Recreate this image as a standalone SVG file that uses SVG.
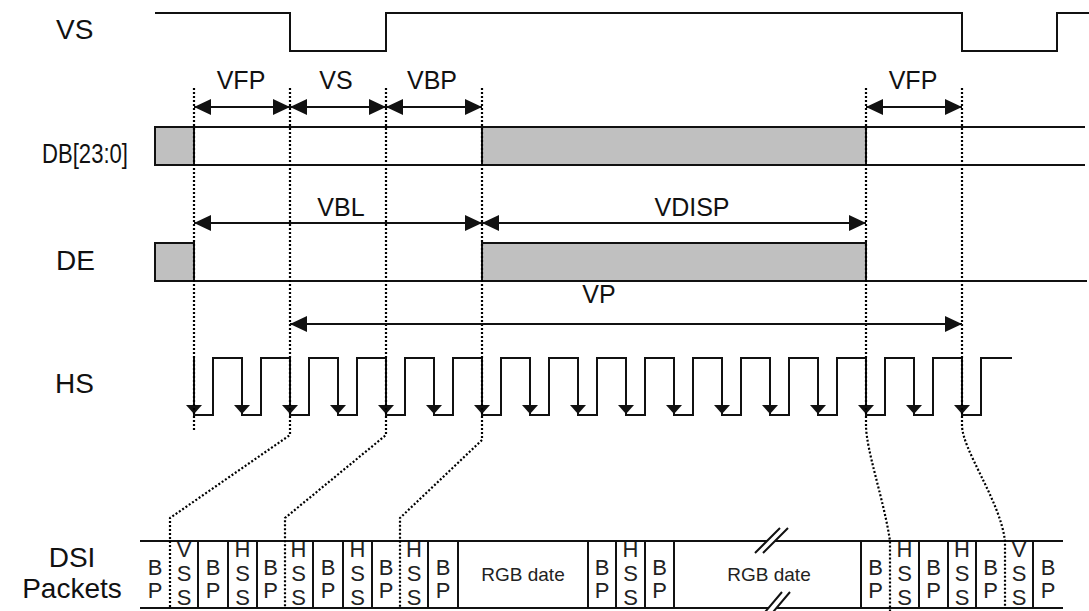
<svg xmlns="http://www.w3.org/2000/svg" width="1089" height="611" viewBox="0 0 1089 611">
<style>
.sig{fill:none;stroke:#111;stroke-width:2;stroke-linejoin:miter}
.bus{fill:#c0c0c0;stroke:#111;stroke-width:2}
.dot{fill:none;stroke:#000;stroke-width:2.2;stroke-dasharray:2 2}
.arr{fill:none;stroke:#111;stroke-width:2;marker-start:url(#ah);marker-end:url(#ah)}
.lbl{font-family:"Liberation Sans",Arial,sans-serif;font-size:28px;fill:#111}
.tl{font-family:"Liberation Sans",Arial,sans-serif;font-size:25px;fill:#111;text-anchor:middle}
.bx{font-family:"Liberation Sans",Arial,sans-serif;font-size:22px;fill:#222;text-anchor:middle}
.rgb{font-family:"Liberation Sans",Arial,sans-serif;font-size:19px;fill:#222;text-anchor:middle}
.div{stroke:#111;stroke-width:2}
</style>
<defs>
<marker id="ah" viewBox="0 0 17 16" refX="17" refY="8" markerWidth="17" markerHeight="16" markerUnits="userSpaceOnUse" orient="auto-start-reverse">
<path d="M0,0 L17,8 L0,16 z" fill="#111"/>
</marker>
<path id="hsa" d="M-8,405 L8,405 L0,414 z" fill="#111"/>
</defs>
<rect width="1089" height="611" fill="#fff"/>

<g id="labels">
<text class="lbl" x="56" y="39">VS</text>
<text class="lbl" x="42" y="163" textLength="86" lengthAdjust="spacingAndGlyphs">DB[23:0]</text>
<text class="lbl" x="56" y="270">DE</text>
<text class="lbl" x="55" y="393">HS</text>
<text class="lbl" x="72" y="567" text-anchor="middle">DSI</text>
<text class="lbl" x="72" y="598" text-anchor="middle">Packets</text>
</g>

<g id="vs-signal">
<path class="sig" d="M155,13 H290 V51 H386 V13 H962 V51 H1057 V13 H1089"/>
</g>

<g id="db-signal">
<rect class="bus" x="155" y="127" width="39" height="38"/>
<rect class="bus" x="482" y="127" width="384" height="38"/>
<path class="sig" d="M194,127 H1085 M194,165 H1085"/>
</g>

<g id="de-signal">
<rect class="bus" x="155" y="243" width="39" height="38"/>
<rect class="bus" x="482" y="243" width="384" height="38"/>
<path class="sig" d="M194,281 H1087"/>
</g>

<g id="hs-signal">
<path class="sig" d="M194,358 V415 H213 V358 H242 V415 H261 V358 H290 V415 H309 V358 H338 V415 H357 V358 H386 V415 H405 V358 H434 V415 H453 V358 H482 V415 H501 V358 H530 V415 H549 V358 H578 V415 H597 V358 H626 V415 H645 V358 H674 V415 H693 V358 H722 V415 H741 V358 H770 V415 H789 V358 H818 V415 H837 V358 H866 V415 H885 V358 H914 V415 H933 V358 H962 V415 H981 V358 H1012"/>
<use href="#hsa" x="194"/><use href="#hsa" x="242"/><use href="#hsa" x="290"/><use href="#hsa" x="338"/>
<use href="#hsa" x="386"/><use href="#hsa" x="434"/><use href="#hsa" x="482"/><use href="#hsa" x="530"/>
<use href="#hsa" x="578"/><use href="#hsa" x="626"/><use href="#hsa" x="674"/><use href="#hsa" x="722"/>
<use href="#hsa" x="770"/><use href="#hsa" x="818"/><use href="#hsa" x="866"/><use href="#hsa" x="914"/>
<use href="#hsa" x="962"/>
</g>

<g id="dsi-packets">
<path class="sig" d="M140,541 H1063 M140,608 H1063"/>
<path class="div" d="M198,541 V608 M228,541 V608 M257,541 V608 M313,541 V608 M343,541 V608 M372,541 V608 M428,541 V608 M458,541 V608 M588,541 V608 M616,541 V608 M645,541 V608 M674,541 V608 M861,541 V608 M919,541 V608 M948,541 V608 M976,541 V608 M1033,541 V608"/>
<polygon points="755,553 780,528 788,528 763,553" fill="#fff"/>
<path class="div" d="M755,553 L780,528 M763,553 L788,528"/>
<polygon points="760,618 782,592 790,592 768,618" fill="#fff"/>
<path class="div" d="M760,618 L782,592 M768,618 L790,592"/>
<text class="rgb" x="523" y="581">RGB date</text>
<text class="rgb" x="769" y="581">RGB date</text>
<g class="bx">
<text x="155" y="575">B</text><text x="155" y="598">P</text>
<text x="184" y="557">V</text><text x="184" y="581">S</text><text x="184" y="605">S</text>
<text x="213" y="575">B</text><text x="213" y="598">P</text>
<text x="242.5" y="557">H</text><text x="242.5" y="581">S</text><text x="242.5" y="605">S</text>
<text x="270.5" y="575">B</text><text x="270.5" y="598">P</text>
<text x="298.5" y="557">H</text><text x="298.5" y="581">S</text><text x="298.5" y="605">S</text>
<text x="328" y="575">B</text><text x="328" y="598">P</text>
<text x="357.5" y="557">H</text><text x="357.5" y="581">S</text><text x="357.5" y="605">S</text>
<text x="386" y="575">B</text><text x="386" y="598">P</text>
<text x="414" y="557">H</text><text x="414" y="581">S</text><text x="414" y="605">S</text>
<text x="443" y="575">B</text><text x="443" y="598">P</text>
<text x="602" y="575">B</text><text x="602" y="598">P</text>
<text x="630.5" y="557">H</text><text x="630.5" y="581">S</text><text x="630.5" y="605">S</text>
<text x="659.5" y="575">B</text><text x="659.5" y="598">P</text>
<text x="875.5" y="575">B</text><text x="875.5" y="598">P</text>
<text x="904.5" y="557">H</text><text x="904.5" y="581">S</text><text x="904.5" y="605">S</text>
<text x="933.5" y="575">B</text><text x="933.5" y="598">P</text>
<text x="962" y="557">H</text><text x="962" y="581">S</text><text x="962" y="605">S</text>
<text x="990.5" y="575">B</text><text x="990.5" y="598">P</text>
<text x="1019" y="557">V</text><text x="1019" y="581">S</text><text x="1019" y="605">S</text>
<text x="1048" y="575">B</text><text x="1048" y="598">P</text>
</g>
</g>

<g id="connectors">
<path class="dot" d="M194,88 V430"/>
<path class="dot" d="M290,88 V435 L170,518 V608"/>
<path class="dot" d="M386,88 V435 L285,518 V608"/>
<path class="dot" d="M482,88 V440 L400,518 V608"/>
<path class="dot" d="M866,88 V425 C866,450 884,500 890,541 V611"/>
<path class="dot" d="M962,88 V425 C962,450 1000,500 1005,541 V608"/>
<line class="arr" x1="194" y1="107" x2="290" y2="107"/>
<line class="arr" x1="290" y1="107" x2="386" y2="107"/>
<line class="arr" x1="386" y1="107" x2="482" y2="107"/>
<line class="arr" x1="866" y1="107" x2="962" y2="107"/>
<line class="arr" x1="194" y1="223" x2="482" y2="223"/>
<line class="arr" x1="482" y1="223" x2="866" y2="223"/>
<line class="arr" x1="290" y1="324" x2="962" y2="324"/>
</g>

<g id="timing-labels">
<text class="tl" x="241" y="89">VFP</text>
<text class="tl" x="336" y="89">VS</text>
<text class="tl" x="432" y="89">VBP</text>
<text class="tl" x="913" y="89">VFP</text>
<text class="tl" x="341" y="216">VBL</text>
<text class="tl" x="692" y="216">VDISP</text>
<text class="tl" x="599" y="303">VP</text>
</g>
</svg>
